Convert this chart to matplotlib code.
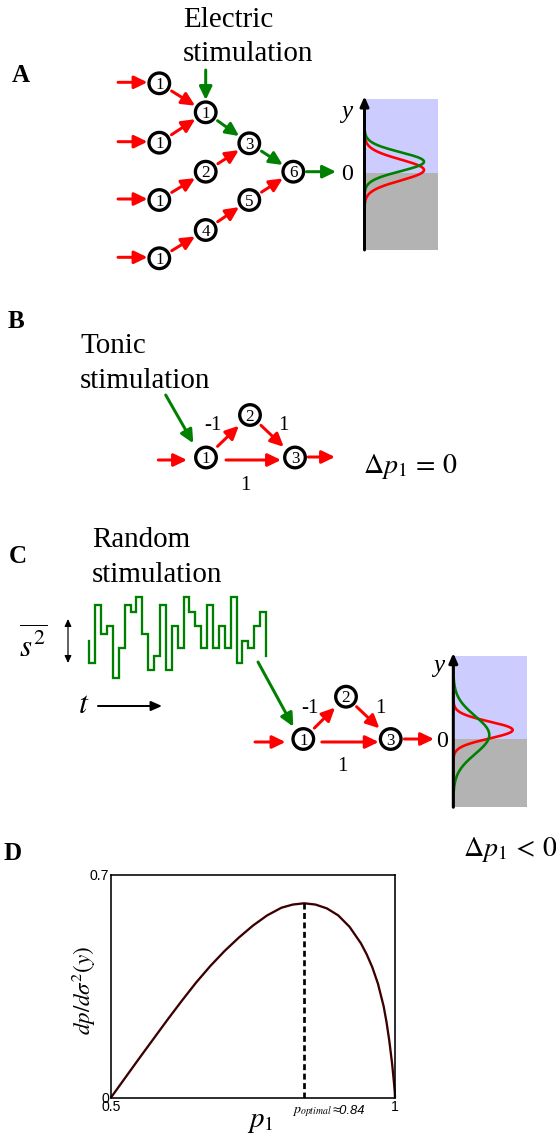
import numpy as np
import matplotlib
matplotlib.use("Agg")
import matplotlib.pyplot as plt
from matplotlib.patches import Circle, Rectangle, FancyArrowPatch

plt.rcParams['font.family'] = ['Liberation Serif', 'DejaVu Serif']
plt.rcParams['mathtext.fontset'] = 'stix'

W, H, DPI = 556, 1138, 100
PT = 72.0 / DPI

# ======================= DATA =======================
# Panel A network
a_node_ids = ['i1', 'i2', 'i3', 'i4', 'n1', 'n2', 'n3', 'n4', 'n5', 'n6']
a_node_labels = ['1', '1', '1', '1', '1', '2', '3', '4', '5', '6']
a_edges = [('i1', 'n1'), ('i2', 'n1'), ('i3', 'n2'), ('i4', 'n4'),
           ('n1', 'n3'), ('n2', 'n3'), ('n3', 'n6'), ('n4', 'n5'), ('n5', 'n6')]
a_edge_colors = ['red', 'red', 'red', 'red', 'green', 'red', 'green', 'red', 'red']
a_inputs = ['i1', 'i2', 'i3', 'i4']

# Panels B/C triangle network
tri_labels = ['1', '2', '3']
tri_edges = [(0, 1), (1, 2), (0, 2)]
tri_weights = ['-1', '1', '1']

# Output distributions (y in arbitrary units, threshold at 0): red, green
distA_mean = [0.27, 1.1]
distA_sd = [1.05, 0.95]
distA_peak = [1.0, 1.0]
distC_mean = [0.93, 0.43]
distC_sd = [0.85, 1.9]
distC_peak = [1.0, 0.606]
dist_colors = ['#ff0000', '#008000']

# Random stimulation trace (levels per time step)
trace_start = 5
trace_levels = [2, 10, 6, 7, 0, 4, 10, 9, 11, 6, 1, 3, 10, 1, 7, 4,
                11, 9, 7, 4, 10, 4, 7, 4, 11, 2, 5, 4, 7, 9]
trace_end = 3

# Panel D curve
p1_vals = [0.5, 0.525, 0.55, 0.575, 0.6, 0.625, 0.65, 0.675, 0.7, 0.725, 0.75,
           0.775, 0.8, 0.82, 0.84, 0.86, 0.88, 0.9, 0.92, 0.94, 0.95, 0.96,
           0.97, 0.98, 0.985, 0.99, 0.995, 0.998, 0.9995, 1.0]
dp_vals = [0.0, 0.062, 0.124, 0.185, 0.246, 0.305, 0.362, 0.414, 0.461, 0.503, 0.541,
           0.573, 0.597, 0.607, 0.611, 0.607, 0.595, 0.573, 0.537, 0.485, 0.451, 0.41,
           0.358, 0.287, 0.238, 0.178, 0.105, 0.05, 0.02, 0.0]
p_optimal = 0.84
p_optimal_value = 0.611
d_xticks = [0.5, 1.0]
d_xticklabels = ['0.5', '1']
d_yticks = [0.0, 0.7]
d_yticklabels = ['0', '0.7']

# ======================= LAYOUT =======================
COL = {'red': '#ff0000', 'green': '#008000', 'black': 'black'}
R_NODE = 10.3
NODE_LW = 3.3
NODE_FS = 17
TITLE_FS = 29
LETTER_FS = 25

fig = plt.figure(figsize=(W / DPI, H / DPI), dpi=DPI)
ax = fig.add_axes([0, 0, 1, 1])
ax.set_xlim(0, W)
ax.set_ylim(H, 0)
ax.axis('off')


def fs(px):
    return px * PT


def text(x, y, s, px, **kw):
    kw.setdefault('va', 'baseline')
    ax.text(x, y, s, fontsize=fs(px), **kw)


def arrow(p0, p1, color, lw=3.0, hl=11.0, hw=5.3, style='-|>', z=3):
    a = FancyArrowPatch(p0, p1,
                        arrowstyle=f'{style},head_length={hl * PT:.3f},head_width={hw * PT:.3f}',
                        mutation_scale=1, color=COL.get(color, color), lw=lw * PT,
                        shrinkA=0, shrinkB=0, zorder=z)
    ax.add_patch(a)


def edge(c0, c1, color, g0=14, g1=12, **kw):
    c0 = np.asarray(c0, float)
    c1 = np.asarray(c1, float)
    u = (c1 - c0) / np.hypot(*(c1 - c0))
    arrow(tuple(c0 + u * g0), tuple(c1 - u * g1), color, **kw)


def node(c, label):
    ax.add_patch(Circle(c, R_NODE, facecolor='white', edgecolor='black',
                        lw=NODE_LW * PT, zorder=4))
    ax.text(c[0], c[1] + 0.34 * NODE_FS, label, fontsize=fs(NODE_FS),
            ha='center', va='baseline', zorder=5)


def dist_panel(x0, x1, ytop, ybot, ythr, means, sds, peaks, yunit=10.0, xunit=59.5):
    ax.add_patch(Rectangle((x0, ytop), x1 - x0, ythr - ytop, facecolor='#ccccff', lw=0, zorder=1))
    ax.add_patch(Rectangle((x0, ythr), x1 - x0, ybot - ythr, facecolor='#b3b3b3', lw=0, zorder=1))
    yy = np.linspace(ytop, ybot, 600)
    u = (ythr - yy) / yunit
    for m, s, pk, c in zip(means, sds, peaks, dist_colors):
        xx = x0 + xunit * pk * np.exp(-0.5 * ((u - m) / s) ** 2)
        ax.plot(xx, yy, color=c, lw=2.6 * PT, zorder=2, solid_capstyle='butt')
    arrow((x0, ybot), (x0, ytop - 3), 'black', lw=3, hl=8, hw=3.5, z=3)


# ---------------- Panel A ----------------
text(12, 82, 'A', LETTER_FS, fontweight='bold')
text(183, 27, 'Electric', TITLE_FS)
text(183, 61, 'stimulation', TITLE_FS)

a_pos = {'i1': (159.3, 83.3), 'i2': (159.3, 142.7), 'i3': (159.3, 200.0), 'i4': (159.3, 258.3),
         'n1': (205.7, 112.3), 'n2': (205.7, 171.7), 'n3': (249.3, 143.3),
         'n4': (205.7, 230.0), 'n5': (249.3, 200.0), 'n6': (293.3, 171.7)}
for (s, t), c in zip(a_edges, a_edge_colors):
    edge(a_pos[s], a_pos[t], c, g0=14.5, g1=12.5)
for i in a_inputs:
    x, y = a_pos[i]
    arrow((118, y - 1), (147.5, y - 1), 'red')
arrow((205.7, 70), (205.7, 100), 'green')
arrow((306.5, 171.7), (336, 171.7), 'green')
for nid, lab in zip(a_node_ids, a_node_labels):
    node(a_pos[nid], lab)
text(347, 171.7 + 0.34 * 24, '0', 24, ha='center')
dist_panel(364.5, 438, 99.3, 250, 172.7, distA_mean, distA_sd, distA_peak, xunit=59.5)
text(347, 118, 'y', 25, ha='center', style='italic')

# ---------------- Panel B ----------------
text(8, 328, 'B', LETTER_FS, fontweight='bold')
text(80, 353, 'Tonic', TITLE_FS)
text(80, 388, 'stimulation', TITLE_FS)
b_pos = [(206, 457.5), (250, 415), (295, 457.5)]
b_gaps = [(16, 15.5), (15, 15.5), (20, 14)]
b_lab_pos = [(213, 423), (283, 423), (245, 483)]
for (s, t), (g0, g1) in zip(tri_edges, b_gaps):
    if s == 0 and t == 2:
        p0 = (b_pos[s][0], b_pos[s][1] + 2.5)
        p1 = (b_pos[t][0], b_pos[t][1] + 2.5)
        edge(p0, p1, 'red', g0=g0, g1=g1)
    else:
        edge(b_pos[s], b_pos[t], 'red', g0=g0, g1=g1)
for (x, y), w in zip(b_lab_pos, tri_weights):
    text(x, y + 0.34 * 21, w, 21, ha='center')
arrow((158.3, 460), (187, 460), 'red')
arrow((308.3, 457), (335, 457), 'red')
arrow((165.7, 395), (193.3, 443.3), 'green')
for c, lab in zip(b_pos, tri_labels):
    node(c, lab)
text(363, 473, r'$\Delta p_1 \,=\, 0$', 28)

# ---------------- Panel C ----------------
text(9, 563, 'C', LETTER_FS, fontweight='bold')
text(92, 547, 'Random', TITLE_FS)
text(92, 582, 'stimulation', TITLE_FS)

x_start, dx = 89.3, (266.0 - 89.3) / len(trace_levels)
lev_base, lev_unit = 677.5, 7.3
edges_x = x_start + dx * np.arange(len(trace_levels) + 1)
tx = [edges_x[0]]
ty = [trace_start]
for i, L in enumerate(trace_levels):
    tx += [edges_x[i], edges_x[i + 1]]
    ty += [L, L]
tx.append(edges_x[-1])
ty.append(trace_end)
ty = lev_base - lev_unit * np.asarray(ty, float)
ax.plot(tx, ty, color=COL['green'], lw=2.3 * PT, zorder=2, solid_joinstyle='miter')

text(33, 657, r'$\overline{s^2}$', 31, ha='center')
ax.add_patch(FancyArrowPatch((68, 663), (68, 619),
                             arrowstyle=f'<|-|>,head_length={6 * PT:.3f},head_width={2.8 * PT:.3f}',
                             mutation_scale=1, color='black', lw=1.2 * PT, shrinkA=0, shrinkB=0, zorder=3))
text(84, 713, r'$t$', 32, ha='center')
arrow((98, 706), (162, 706), 'black', lw=2.0, hl=9, hw=4)

arrow((258, 662), (293.3, 726.7), 'green')
c_pos = [(303.3, 739), (346, 696.7), (390.7, 739)]
c_gaps = [(15.5, 15.5), (14.5, 15.5), (18.5, 12)]
c_lab_pos = [(310, 706), (380, 706), (342, 764)]
for (s, t), (g0, g1) in zip(tri_edges, c_gaps):
    if s == 0 and t == 2:
        p0 = (c_pos[s][0], c_pos[s][1] + 3)
        p1 = (c_pos[t][0], c_pos[t][1] + 3)
        edge(p0, p1, 'red', g0=g0, g1=g1)
    else:
        edge(c_pos[s], c_pos[t], 'red', g0=g0, g1=g1)
for (x, y), w in zip(c_lab_pos, tri_weights):
    text(x, y + 0.34 * 21, w, 21, ha='center')
arrow((255, 742), (285.5, 742), 'red')
arrow((404.3, 739), (434, 739), 'red')
for c, lab in zip(c_pos, tri_labels):
    node(c, lab)
text(442, 739 + 0.34 * 24, '0', 24, ha='center')
dist_panel(453.3, 526.7, 656, 807.3, 739.3, distC_mean, distC_sd, distC_peak, xunit=59.4)
text(439, 672, 'y', 25, ha='center', style='italic')
text(463, 856, r'$\Delta p_1 \,<\, 0$', 28)

# ---------------- Panel D ----------------
text(4, 860, 'D', LETTER_FS, fontweight='bold')
L, B, Wd, Hd = 111, 1097.5, 284, 222.5
axD = fig.add_axes([L / W, 1 - B / H, Wd / W, Hd / H])
axD.plot(p1_vals, dp_vals, color='#3c0000', lw=2.3 * PT, solid_capstyle='butt',
         solid_joinstyle='round', clip_on=False)
axD.plot([p_optimal, p_optimal], [0, p_optimal_value], color='black', lw=2.7 * PT,
         dashes=(2.2, 1.3))
axD.set_xlim(0.5, 1.0)
axD.set_ylim(0, 0.7)
axD.set_xticks(d_xticks)
axD.set_xticklabels(d_xticklabels)
axD.set_yticks(d_yticks)
axD.set_yticklabels(d_yticklabels)
axD.tick_params(length=0, pad=1.5, labelsize=fs(14))
for lab in axD.get_xticklabels() + axD.get_yticklabels():
    lab.set_family(['Liberation Sans', 'DejaVu Sans'])
for sp in axD.spines.values():
    sp.set_linewidth(1.6 * PT)

text(84, 990, r'$dp/d\sigma^2(y)$', 23, ha='center', va='center', rotation=90)
text(247, 1127, r'$p_1$', 29)
text(292, 1114.5, r'$p_{optimal}$', 14)
text(333, 1114.5, '≈0.84', 13, style='italic', family=['Liberation Sans', 'DejaVu Sans'])

fig.savefig('out.png', dpi=DPI)
